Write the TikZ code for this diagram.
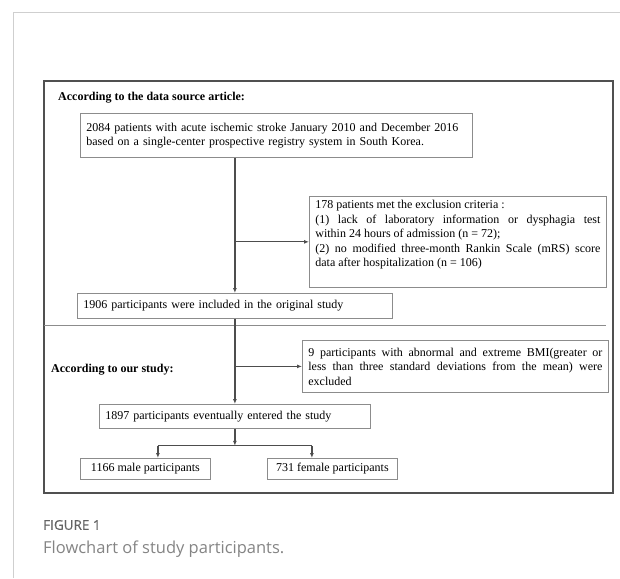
\documentclass[tikz,border=0pt]{standalone}
\usepackage{fontspec}
\setmainfont{Liberation Serif}
\newfontfamily\capfont{Open Sans}
\newfontfamily\capnofont{Open Sans}[FakeBold=0.5]
\usetikzlibrary{calc,arrows.meta}

\definecolor{framegrey}{HTML}{CFCFCF}
\definecolor{outergrey}{HTML}{505050}
\definecolor{boxgrey}{HTML}{8C8C8C}
\definecolor{linegrey}{HTML}{4D4D4D}
\definecolor{capgrey}{HTML}{6E6E6E}

\begin{document}
\begin{tikzpicture}[x=1pt,y=-1pt,
  box/.style={draw=boxgrey,line width=0.8pt,anchor=north west,inner xsep=6pt,inner ysep=0pt,font=\fontsize{12}{14.5}\selectfont},
  flow/.style={draw=linegrey,line width=1.2pt,-{Latex[length=5pt,width=4pt]}},
  head/.style={anchor=west,inner sep=0pt,font=\fontsize{12}{14.5}\selectfont\bfseries}]
\useasboundingbox (0,0) rectangle (620,578);

\draw[framegrey,line width=1pt] (620,13) -- (13,13) -- (13,578);
\draw[outergrey,line width=1.1pt] (44,81) rectangle (613,493);
\draw[boxgrey,line width=0.8pt] (44,325) -- (606,325);

\draw node[head] (srchead) at (58,98) {According to the data source article:};
\draw node[box,text width=380pt,minimum height=44pt,align=left] (source) at (80,113)
  {2084 patients with acute ischemic stroke January 2010 and December 2016\\
   based on a single-center prospective registry system in South Korea.};
\draw node[box,text width=285pt,inner ysep=4pt,align=justify] (exclude) at (309,196)
  {178 patients met the exclusion criteria :\\
   (1) lack of laboratory information or dysphagia test\linebreak
   within 24 hours of admission (n = 72);\\
   (2) no modified three-month Rankin Scale (mRS) score\linebreak
   data after hospitalization (n = 106)\par\rule{0pt}{13pt}};
\draw node[box,text width=303pt,minimum height=25pt,align=left] (orig) at (77,293)
  {1906 participants were included in the original study};

\draw[flow] (orig |- source.south) -- (orig.north);
\draw[flow] (orig |- exclude.west) -- (exclude.west);

\draw node[head] (ourhead) at (51,370) {According to our study:};
\draw node[box,text width=294pt,minimum height=52pt,align=justify] (bmi) at (302,340)
  {9 participants with abnormal and extreme BMI(greater or\linebreak
   less than three standard deviations from the mean) were\linebreak
   excluded};
\draw node[box,text width=259pt,minimum height=24pt,align=left] (final) at (99,404)
  {1897 participants eventually entered the study};

\draw[flow] (orig.south) -- (final.north);
\draw[flow] (orig |- bmi.west) -- (bmi.west);

\draw node[box,minimum width=130pt,minimum height=21pt] (male) at (80,458) {1166 male participants};
\draw node[box,minimum width=130pt,minimum height=21pt] (female) at (267,458) {731 female participants};

\coordinate (split) at ($(final.south)+(0,17)$);
\coordinate (mleft) at ($(split)+(-77,0)$);
\coordinate (fright) at ($(split)+(77,0)$);
\draw[flow] (final.south) -- (split);
\draw[linegrey,line width=1.2pt] (mleft) -- (fright);
\draw[flow] (mleft) -- (mleft |- male.north);
\draw[flow] (fright) -- (fright |- female.north);

\draw node[anchor=west,inner sep=0pt,text=capgrey!90!black,font=\capnofont\fontsize{13.5}{16}\selectfont] (figno) at (43,525) {FIGURE 1};
\draw node[anchor=west,inner sep=0pt,text=capgrey!85,font=\capfont\fontsize{16.5}{20}\selectfont] (figcap) at (43,549) {Flowchart of study participants.};
\end{tikzpicture}
\end{document}
